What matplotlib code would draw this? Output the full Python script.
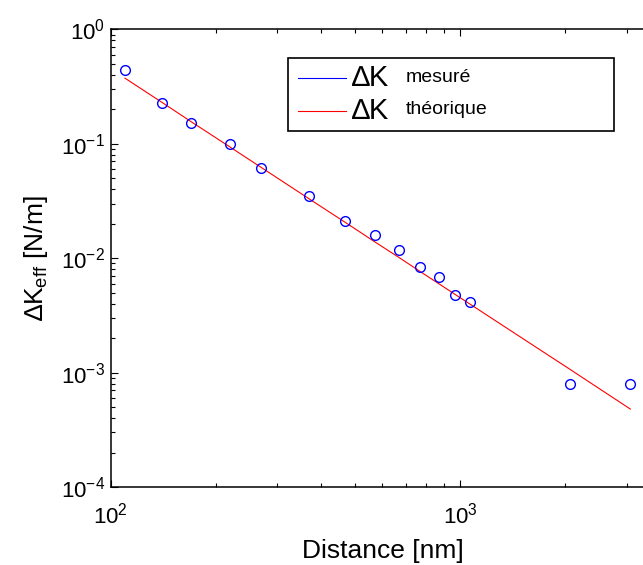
import matplotlib
matplotlib.use('Agg')
import matplotlib.pyplot as plt
from matplotlib.patches import Rectangle
from matplotlib.lines import Line2D
from matplotlib.ticker import NullFormatter

plt.rcParams['font.family'] = ['Liberation Sans', 'DejaVu Sans']
plt.rcParams['mathtext.fontset'] = 'custom'
plt.rcParams['mathtext.rm'] = 'Liberation Sans'

# distances [nm] and stiffness variation [N/m]
distance = [110, 140, 170, 220, 270, 370, 470, 570, 670, 770, 870, 970, 1070, 2070, 3070]
dk_measured = [0.438, 0.228, 0.152, 0.100, 0.0617, 0.0348, 0.0212, 0.0160, 0.0117,
               0.00831, 0.00684, 0.00476, 0.00413, 0.000798, 0.000798]
dk_theory = [0.374, 0.231, 0.156, 0.0934, 0.0620, 0.0330, 0.0205, 0.0139, 0.0101,
             0.00762, 0.00597, 0.00480, 0.00395, 0.00106, 0.00048]

W, H = 643, 565
fig = plt.figure(figsize=(W / 100, H / 100), dpi=100)
# axes run past the right edge of the figure (cropped like the original)
ax = fig.add_axes([110.5 / W, 78 / H, 544 / W, 457.7 / H])

ax.loglog(distance, dk_theory, '-', color='red', lw=0.8)
ax.loglog(distance, dk_measured, 'o', mfc='none', mec='blue', ms=7, mew=1.0)

ax.set_xlim(100, 3600)
ax.set_ylim(1e-4, 1)
ax.xaxis.set_minor_formatter(NullFormatter())
ax.yaxis.set_minor_formatter(NullFormatter())
ax.tick_params(which='both', direction='in', top=True, right=True, width=0.8)
ax.tick_params(which='major', length=5, labelsize=16)
ax.tick_params(which='minor', length=3)
ax.tick_params(axis='x', which='major', pad=11)
ax.tick_params(axis='y', which='major', pad=4)
for s in ax.spines.values():
    s.set_linewidth(1.1)

ax.set_xlabel('Distance [nm]', fontsize=19, labelpad=8)
ax.set_ylabel('\u2206K$_{\\mathrm{eff}}$ [N/m]', fontsize=19, labelpad=8)

# legend drawn by hand (MATLAB style: big symbol, smaller word)
fig.add_artist(Rectangle((288 / W, 1 - 131 / H), 326 / W, 73 / H, transform=fig.transFigure,
                         facecolor='white', edgecolor='black', lw=1.2))
entries = [('blue', 'mesuré', 78.3), ('red', 'théorique', 110.7)]
for col, word, yy in entries:
    fig.add_artist(Line2D([298 / W, 346 / W], [1 - yy / H, 1 - yy / H],
                          transform=fig.transFigure, color=col, lw=0.8))
    fig.text(352 / W, 1 - yy / H, '\u2206K', fontsize=21, va='center', ha='left')
    fig.text(406 / W, 1 - (yy - 1) / H, word, fontsize=14, va='center', ha='left')

fig.savefig('out.png', dpi=100)
